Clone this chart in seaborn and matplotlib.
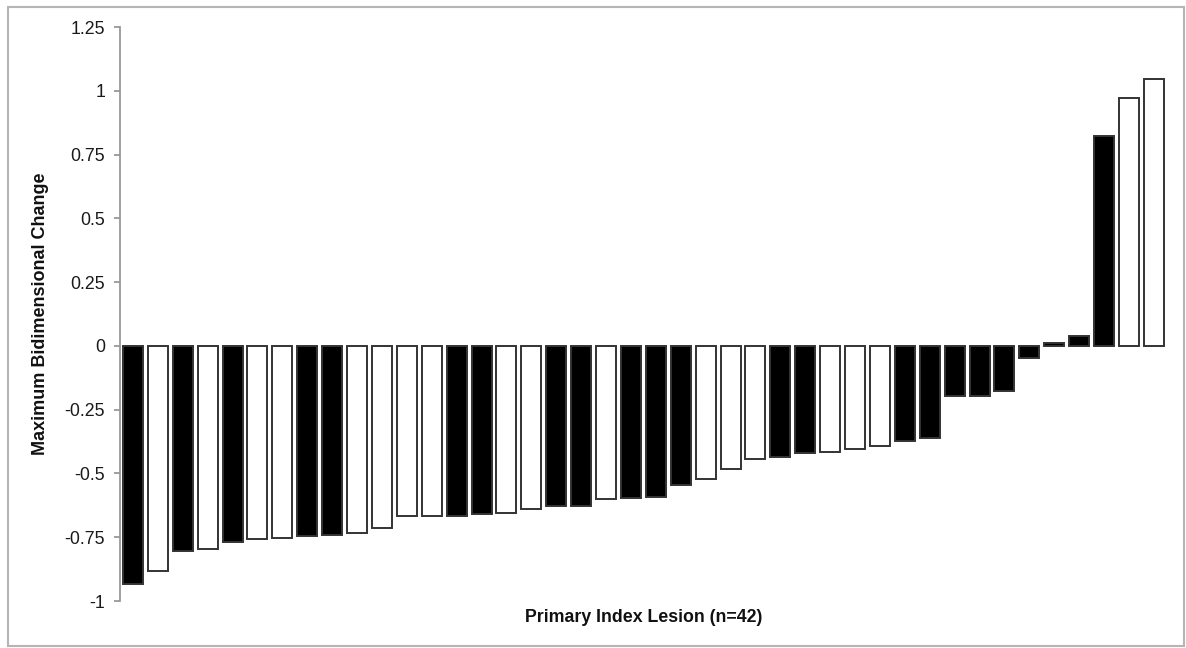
import numpy as np
import pandas as pd
import matplotlib
matplotlib.use("Agg")
import matplotlib.pyplot as plt
import seaborn as sns
from matplotlib.patches import Rectangle
from matplotlib.ticker import FuncFormatter

# ----- DATI -----
lesion_ids = [str(i) for i in range(1, 43)]
max_change = [-0.935, -0.884, -0.805, -0.798, -0.768, -0.758, -0.752, -0.746, -0.741, -0.734,
              -0.713, -0.667, -0.665, -0.667, -0.660, -0.655, -0.639, -0.627, -0.626, -0.600,
              -0.596, -0.591, -0.545, -0.523, -0.482, -0.445, -0.437, -0.418, -0.416, -0.404,
              -0.392, -0.373, -0.362, -0.195, -0.195, -0.175, -0.047, 0.010, 0.040, 0.824,
              0.973, 1.047]
bar_group = ["solid", "open", "solid", "open", "solid", "open", "open", "solid", "solid", "open",
             "open", "open", "open", "solid", "solid", "open", "open", "solid", "solid", "open",
             "solid", "solid", "solid", "open", "open", "open", "solid", "solid", "open", "open",
             "open", "solid", "solid", "solid", "solid", "solid", "solid", "solid", "solid", "solid",
             "open", "open"]
y_ticks = [-1, -0.75, -0.5, -0.25, 0, 0.25, 0.5, 0.75, 1, 1.25]

df = pd.DataFrame({"lesion": lesion_ids, "change": max_change, "group": bar_group})

sns.set_style("white")
plt.rcParams["font.family"] = ["Liberation Sans", "DejaVu Sans"]
plt.rcParams["axes.unicode_minus"] = False

fig = plt.figure(figsize=(11.86, 6.48), dpi=100)
ax = fig.add_axes([0.1016, 0.0725, 0.8818, 0.8858])

sns.barplot(data=df, x="lesion", y="change", hue="group", order=lesion_ids,
            palette={"solid": "black", "open": "white"}, dodge=False, width=0.8,
            edgecolor="#333333", linewidth=1.4, legend=False, ax=ax)

ax.set_xlim(-0.5, 41.5)
ax.set_ylim(-1, 1.25)
ax.set_yticks(y_ticks)
ax.yaxis.set_major_formatter(FuncFormatter(lambda v, p: f"{v:g}"))
ax.set_xticks([])

# solo asse sinistro, grigio
for s in ["top", "right", "bottom"]:
    ax.spines[s].set_visible(False)
ax.spines["left"].set_color("#999999")
ax.spines["left"].set_linewidth(1.3)
ax.tick_params(axis="y", length=4, width=1.3, color="#999999", pad=7,
               labelsize=12.8, labelcolor="#1a1a1a", left=True)

ax.set_ylabel("Maximum Bidimensional Change", fontsize=13, fontweight="bold", color="#111111")
ax.yaxis.set_label_coords(-0.068, 0.5)
ax.set_xlabel("Primary Index Lesion (n=42)", fontsize=12.8, fontweight="bold", color="#111111")
ax.xaxis.set_label_coords(0.5, -0.028)
ax.xaxis.label.set_va("center")

# cornice grigia attorno alla figura
fig.patches.append(Rectangle((8 / 1186, 2 / 648), 1176 / 1186, 639 / 648,
                             transform=fig.transFigure, fill=False,
                             edgecolor="#b5b5b5", linewidth=1.5))

fig.savefig("out.png", dpi=100)
